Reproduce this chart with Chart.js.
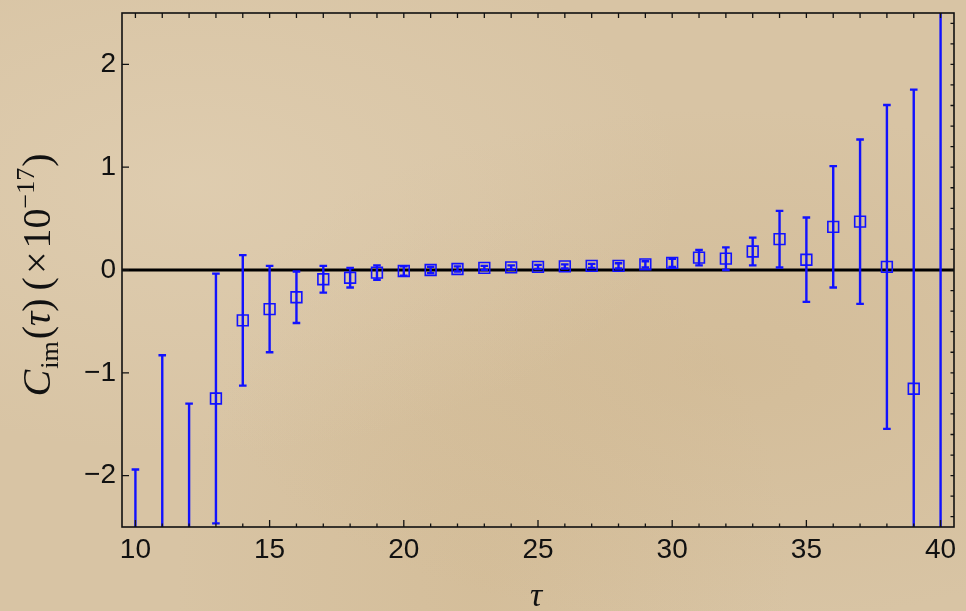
<!DOCTYPE html>
<html>
<head>
<meta charset="utf-8">
<script src="https://cdn.jsdelivr.net/npm/chart.js@4.4.0/dist/chart.umd.min.js"></script>
<style>
html,body{margin:0;padding:0;}
body{width:966px;height:611px;overflow:hidden;
background:
 radial-gradient(ellipse at 20% 30%, rgba(230,214,188,0.45), rgba(230,214,188,0) 45%),
 radial-gradient(ellipse at 75% 60%, rgba(200,172,128,0.30), rgba(200,172,128,0) 50%),
 radial-gradient(ellipse at 50% 95%, rgba(205,178,135,0.35), rgba(205,178,135,0) 45%),
 #d8c4a4;}
#wrap{position:absolute;left:0;top:0;width:966px;height:611px;}
</style>
</head>
<body>
<div id="wrap"><canvas id="c" width="966" height="611"></canvas></div>
<script>
// ---- data ----
const taus = [10,11,12,13,14,15,16,17,18,19,20,21,22,23,24,25,26,27,28,29,30,31,32,33,34,35,36,37,38,39,40];
const values = [-3.5,-2.9,-2.8,-1.25,-0.49,-0.38,-0.265,-0.09,-0.075,-0.025,-0.01,0.0,0.01,0.02,0.025,0.03,0.035,0.04,0.04,0.055,0.07,0.12,0.11,0.18,0.30,0.10,0.42,0.47,0.03,-1.155,-3.0];
const errors = [1.56,2.07,1.50,1.215,0.635,0.42,0.25,0.13,0.095,0.07,0.045,0.03,0.025,0.02,0.02,0.02,0.02,0.02,0.025,0.03,0.04,0.075,0.11,0.135,0.275,0.41,0.59,0.80,1.575,2.91,6.0];
const xTicks = [10,15,20,25,30,35,40];
const yTicks = [-2,-1,0,1,2];
const xRange = [9.5,40.5];
const yRange = [-2.5,2.5];

const BLUE = 'rgb(18,18,255)';
const points = taus.map((t,i)=>({x:t,y:values[i]}));

const decor = {
  id:'decor',
  beforeDatasetsDraw(chart){
    const {ctx, chartArea:a, scales:{x,y}} = chart;
    ctx.save();
    ctx.beginPath(); ctx.rect(a.left,a.top,a.right-a.left,a.bottom-a.top); ctx.clip();
    // zero line
    ctx.strokeStyle='#000'; ctx.lineWidth=3;
    ctx.beginPath(); ctx.moveTo(a.left,y.getPixelForValue(0)); ctx.lineTo(a.right,y.getPixelForValue(0)); ctx.stroke();
    // error bars
    ctx.strokeStyle=BLUE; ctx.lineWidth=2.4; ctx.lineCap='butt';
    taus.forEach((t,i)=>{
      const px=x.getPixelForValue(t);
      const hi=y.getPixelForValue(values[i]+errors[i]);
      const lo=y.getPixelForValue(values[i]-errors[i]);
      ctx.beginPath(); ctx.moveTo(px,hi); ctx.lineTo(px,lo); ctx.stroke();
      ctx.beginPath();
      ctx.moveTo(px-3.8,hi); ctx.lineTo(px+3.8,hi);
      ctx.moveTo(px-3.8,lo); ctx.lineTo(px+3.8,lo);
      ctx.stroke();
    });
    ctx.restore();
  },
  afterDraw(chart){
    const {ctx, chartArea:a, scales:{x,y}} = chart;
    ctx.save();
    ctx.strokeStyle='#111'; ctx.lineWidth=1.6;
    ctx.strokeRect(a.left,a.top,a.right-a.left,a.bottom-a.top);
    ctx.lineWidth=1.3;
    ctx.beginPath();
    for(let t=10;t<=40;t++){
      const px=x.getPixelForValue(t);
      const len = (t%5===0)?7:3.5;
      ctx.moveTo(px,a.bottom); ctx.lineTo(px,a.bottom-len);
      ctx.moveTo(px,a.top); ctx.lineTo(px,a.top+5);
    }
    yTicks.forEach(v=>{const py=y.getPixelForValue(v); ctx.moveTo(a.left,py); ctx.lineTo(a.left+7,py);});
    for(let k=-12;k<=12;k++){
      const py=y.getPixelForValue(k*0.2);
      ctx.moveTo(a.right,py); ctx.lineTo(a.right-3.5,py);
    }
    ctx.stroke();
    // axis titles
    ctx.fillStyle='#111';
    ctx.font='italic 34px "Liberation Serif"';
    ctx.textAlign='center'; ctx.textBaseline='alphabetic';
    ctx.fillText('\u03C4',(a.left+a.right)/2-2,606);
    // y title rotated
    const M='40px "Liberation Serif"', S='26px "Liberation Serif"';
    const parts=[
      {t:'C',f:'italic '+M,dy:0,gap:1},
      {t:'im',f:S,dy:8,gap:2},
      {t:'(',f:M,dy:0},
      {t:'\u03C4',f:'italic '+M,dy:0},
      {t:')',f:M,dy:0,gap:8},
      {t:'(',f:M,dy:0,gap:3},
      {t:'\u00D7',f:M,dy:0,gap:3},
      {t:'10',f:M,dy:0},
      {t:'\u221217',f:S,dy:-16,gap:1},
      {t:')',f:M,dy:0}
    ];
    let total=0;
    parts.forEach(p=>{ctx.font=p.f; p.w=ctx.measureText(p.t).width; total+=p.w+(p.gap||0);});
    ctx.translate(50,275); ctx.rotate(-Math.PI/2);
    ctx.textAlign='left';
    let cx=-total/2;
    parts.forEach(p=>{ctx.font=p.f; ctx.fillText(p.t,cx,p.dy); cx+=p.w+(p.gap||0);});
    ctx.restore();
  }
};

new Chart(document.getElementById('c'),{
  type:'scatter',
  data:{datasets:[{
    data:points,
    pointStyle:'rect',
    pointRadius:7.6,
    pointHoverRadius:7.6,
    pointBorderWidth:1.6,
    pointBorderColor:BLUE,
    pointBackgroundColor:'rgba(0,0,0,0)',
    showLine:false
  }]},
  options:{
    responsive:false,
    animation:false,
    events:[],
    layout:{padding:{left:0,top:13,right:12,bottom:0}},
    plugins:{legend:{display:false},tooltip:{enabled:false}},
    scales:{
      x:{type:'linear',min:xRange[0],max:xRange[1],
        grid:{display:false,drawTicks:false},border:{display:false},
        afterBuildTicks(s){s.ticks=xTicks.map(v=>({value:v}));},
        afterFit(s){s.height=84; s.paddingLeft=0; s.paddingRight=0;},
        ticks:{padding:6,color:'#111',font:{family:'"Liberation Sans"',size:28},maxRotation:0,autoSkip:false}},
      y:{type:'linear',min:yRange[0],max:yRange[1],
        grid:{display:false,drawTicks:false},border:{display:false},
        afterBuildTicks(s){s.ticks=yTicks.map(v=>({value:v}));},
        afterFit(s){s.width=122; s.paddingTop=0; s.paddingBottom=0;},
        ticks:{padding:6,color:'#111',font:{family:'"Liberation Sans"',size:28},
          callback:v=>v<0?'\u2212'+Math.abs(v):String(v)}}
    }
  },
  plugins:[decor]
});
</script>
</body>
</html>
